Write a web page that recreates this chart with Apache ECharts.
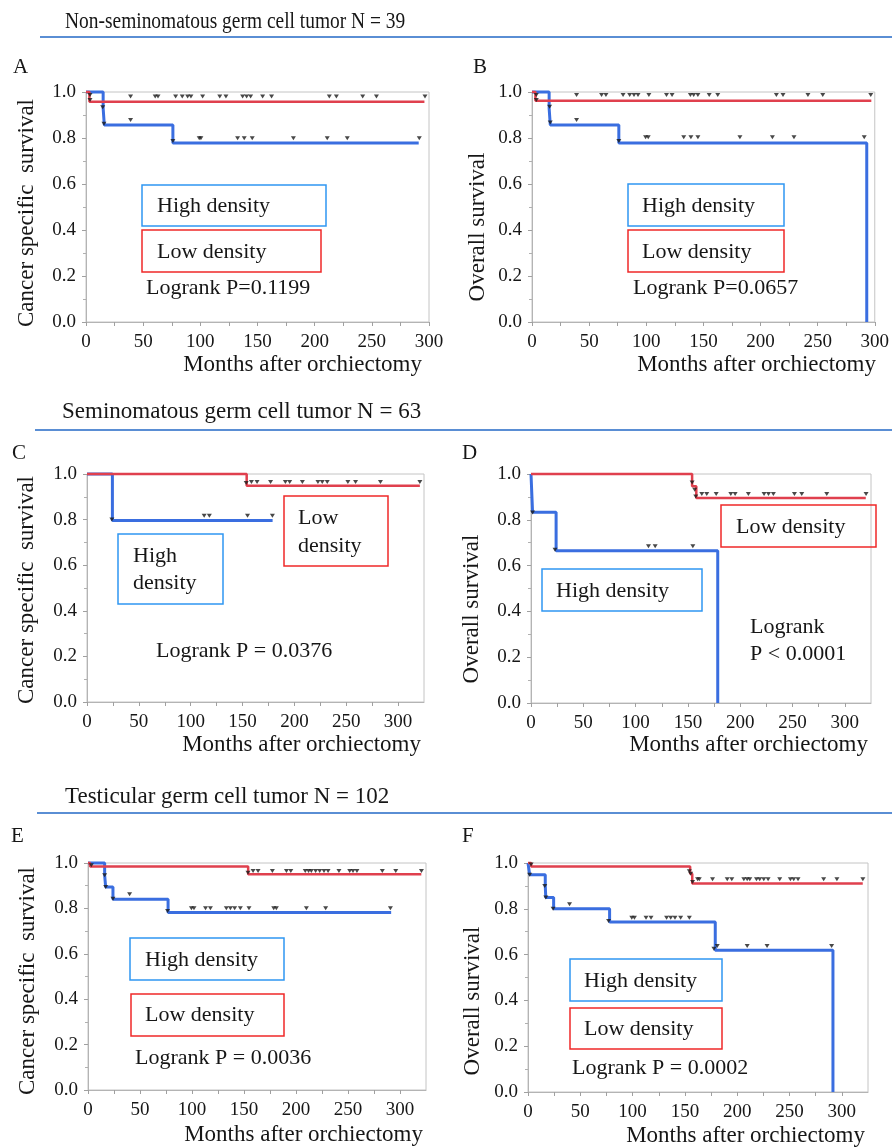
<!DOCTYPE html>
<html>
<head>
<meta charset="utf-8">
<script src="https://cdn.jsdelivr.net/npm/echarts@6/dist/echarts.min.js"></script>
<style>
  html, body { margin: 0; padding: 0; background: #fff; }
  #chart { width: 892px; height: 1147px; }
</style>
</head>
<body>
<div id="chart"></div>
<script>
// tick labels
var monthTicks = [0, 50, 100, 150, 200, 250, 300];
var monthMinorTicks = [0, 25, 50, 75, 100, 125, 150, 175, 200, 225, 250, 275, 300];

var headers = [
    'Non-seminomatous germ cell tumor N = 39',
    'Seminomatous germ cell tumor N = 63',
    'Testicular germ cell tumor N = 102'
];
var panelLetters = ['A', 'B', 'C', 'D', 'E', 'F'];
var yTitles = ['Cancer specific  survival', 'Overall survival', 'Cancer specific  survival',
    'Overall survival', 'Cancer specific  survival', 'Overall survival'];
var logrankTexts = ['Logrank P=0.1199', 'Logrank P=0.0657', 'Logrank P = 0.0376',
    'Logrank\nP < 0.0001', 'Logrank P = 0.0036', 'Logrank P = 0.0002'];

// [month, survival] — step curves
var aHighSteps = [[0, 1], [15, 0.929], [16, 0.857], [76, 0.778], [291, 0.778]];
var aLowSteps = [[0, 1], [3, 0.958], [296, 0.958]];
var bHighSteps = [[0, 1], [15, 0.929], [16, 0.857], [76, 0.778], [293, 0.778], [293, 0]];
var bLowSteps = [[0, 1], [3, 0.962], [297, 0.962]];
var cHighSteps = [[0, 1], [24.5, 0.796], [179, 0.796]];
var cLowSteps = [[0, 1], [154, 0.948], [321, 0.948]];
var dHighSteps = [[0, 1], [1.5, 0.833], [24, 0.665], [178.5, 0.665], [178.5, 0]];
var dLowSteps = [[0, 1], [154, 0.946], [158, 0.895], [320, 0.895]];
var eHighSteps = [[0, 1], [16, 0.947], [17, 0.894], [24, 0.84], [77, 0.782], [291.5, 0.782]];
var eLowSteps = [[0, 1], [2, 0.985], [154, 0.95], [320.5, 0.95]];
var fHighSteps = [[0, 1], [1.6, 0.949], [16.5, 0.9], [17, 0.849], [24.5, 0.8], [78, 0.742],
    [179, 0.619], [291.5, 0.619], [291.5, 0]];
var fLowSteps = [[0, 1], [3, 0.985], [155, 0.953], [157, 0.91], [320, 0.91]];

// [month, mark height] — censored marks
var aHighCensored = [[14.6, 0.934], [15.7, 0.862], [39, 0.878], [76, 0.787], [99, 0.799], [100.5, 0.799],
    [132.6, 0.799], [138.4, 0.799], [145.4, 0.799], [181.4, 0.799], [211, 0.799], [228.5, 0.799], [291.5, 0.799]];
var aLowCensored = [[3.5, 0.987], [3.5, 0.965], [39, 0.98], [60.5, 0.98], [63, 0.98], [78.4, 0.98], [84.2, 0.98],
    [88.9, 0.98], [91.8, 0.98], [102, 0.98], [117, 0.98], [122.4, 0.98], [137, 0.98], [140.5, 0.98], [144, 0.98],
    [154.5, 0.98], [162.3, 0.98], [212.8, 0.98], [219, 0.98], [242, 0.98], [254, 0.98], [296.5, 0.98]];
var bHighCensored = [[15.4, 0.936], [16, 0.867], [39, 0.878], [76, 0.787], [99.4, 0.803], [101.7, 0.803],
    [132.8, 0.803], [139.1, 0.803], [145.2, 0.803], [182, 0.803], [210.4, 0.803], [229.3, 0.803], [290.8, 0.803]];
var bLowCensored = [[3.8, 0.987], [3.8, 0.965], [39, 0.987], [60.9, 0.987], [64.7, 0.987], [79.7, 0.987],
    [85.5, 0.987], [89.3, 0.987], [92.8, 0.987], [102.3, 0.987], [117.7, 0.987], [122.6, 0.987], [138.6, 0.987],
    [141.5, 0.987], [145.2, 0.987], [155.1, 0.987], [162.6, 0.987], [213.9, 0.987], [219.7, 0.987],
    [241.5, 0.987], [254.5, 0.987], [296.5, 0.987]];
var cHighCensored = [[24, 0.8], [113, 0.817], [118, 0.817], [154.8, 0.817], [178.8, 0.817]];
var cLowCensored = [[153.5, 0.96], [158.6, 0.965], [164, 0.965], [177, 0.965], [191.3, 0.965], [195.5, 0.965],
    [207.7, 0.965], [222.7, 0.965], [226.9, 0.965], [231.7, 0.965], [251.6, 0.965], [259, 0.965],
    [283, 0.965], [321, 0.965]];
var dHighCensored = [[1.5, 0.832], [23, 0.669], [112.3, 0.684], [118.7, 0.684], [154.7, 0.684]];
var dLowCensored = [[154, 0.963], [156.5, 0.931], [157.5, 0.902], [163.3, 0.913], [168, 0.913], [177, 0.913],
    [191, 0.913], [195.1, 0.913], [207.8, 0.913], [222.8, 0.913], [227, 0.913], [231.7, 0.913], [251.8, 0.913],
    [258.8, 0.913], [282.7, 0.913], [320.3, 0.913]];
var eHighCensored = [[16, 0.946], [17, 0.894], [24, 0.843], [40, 0.862], [76.5, 0.789], [99.4, 0.801],
    [101.9, 0.801], [113, 0.801], [117.7, 0.801], [133, 0.801], [136.9, 0.801], [141, 0.801], [146.5, 0.801],
    [154.8, 0.801], [178.6, 0.801], [181.1, 0.801], [210, 0.801], [228.5, 0.801], [290.8, 0.801]];
var eLowCensored = [[3.2, 0.99], [153.8, 0.957], [158.7, 0.965], [163.5, 0.965], [177.3, 0.965], [190.8, 0.965],
    [195, 0.965], [208.9, 0.965], [212.1, 0.965], [214.7, 0.965], [218.9, 0.965], [222.8, 0.965], [226.9, 0.965],
    [230.8, 0.965], [241.3, 0.965], [251.6, 0.965], [254.8, 0.965], [258.6, 0.965], [283, 0.965],
    [295.9, 0.965], [320.6, 0.965]];
var fHighCensored = [[1.6, 0.949], [16, 0.9], [17, 0.849], [24, 0.8], [39.7, 0.82], [77, 0.747], [99.2, 0.761],
    [101.7, 0.761], [112.8, 0.761], [117.6, 0.761], [132.5, 0.761], [136.4, 0.761], [140.5, 0.761],
    [145.9, 0.761], [154.2, 0.761], [177.7, 0.626], [180.9, 0.638], [209.5, 0.638], [228.5, 0.638],
    [290.2, 0.638]];
var fLowCensored = [[2.9, 0.993], [154.2, 0.964], [155.5, 0.953], [157.3, 0.917], [162.1, 0.929], [163.7, 0.929],
    [176.4, 0.929], [190.4, 0.929], [194.8, 0.929], [206.3, 0.929], [209.5, 0.929], [212, 0.929], [218.4, 0.929],
    [221.5, 0.929], [225.4, 0.929], [229.5, 0.929], [240.6, 0.929], [250.8, 0.929], [254, 0.929],
    [258.1, 0.929], [282.6, 0.929], [295.3, 0.929], [320.1, 0.929]];

var FONT = '"Liberation Serif", "Times New Roman", serif';
var BLUE = '#3a6ee0';
var RED = '#e0404e';
var BOX_BLUE = '#2f97f2';
var BOX_RED = '#f02828';
var TXT = '#161616';

// layout of each panel (pixels)
var panels = [
    {grid: [86, 92, 343, 230], xMax: 300, high: aHighSteps, low: aLowSteps, hc: aHighCensored, lc: aLowCensored,
        letter: [13, 67], yTitle: [27, 213], xTitle: [422, 365],
        boxes: [[142, 185, 184, 41, 'b'], [142, 230, 179, 42, 'r']],
        texts: [['High density', 157, 206], ['Low density', 157, 252], ['logrank', 146, 288]]},
    {grid: [532, 92, 345, 230], xMax: 300, high: bHighSteps, low: bLowSteps, hc: bHighCensored, lc: bLowCensored,
        letter: [473, 67], yTitle: [478, 227], xTitle: [876, 365],
        boxes: [[628, 184, 156, 42, 'b'], [628, 230, 156, 42, 'r']],
        texts: [['High density', 642, 206], ['Low density', 642, 252], ['logrank', 633, 288]]},
    {grid: [87, 474, 337, 228], xMax: 325, high: cHighSteps, low: cLowSteps, hc: cHighCensored, lc: cLowCensored,
        letter: [12, 453], yTitle: [27, 590], xTitle: [421, 745],
        boxes: [[118, 534, 105, 70, 'b'], [284, 496, 104, 70, 'r']],
        texts: [['High', 133, 556], ['density', 133, 583], ['Low', 298, 518], ['density', 298, 546],
            ['logrank', 156, 651]]},
    {grid: [531, 474, 340, 229], xMax: 325, high: dHighSteps, low: dLowSteps, hc: dHighCensored, lc: dLowCensored,
        letter: [462, 453], yTitle: [472, 609], xTitle: [868, 745],
        boxes: [[542, 569, 160, 42, 'b'], [721, 505, 155, 42, 'r']],
        texts: [['High density', 556, 591], ['Low density', 736, 527], ['logrank', 750, 641]]},
    {grid: [88, 863, 338, 227], xMax: 325, high: eHighSteps, low: eLowSteps, hc: eHighCensored, lc: eLowCensored,
        letter: [11, 836], yTitle: [28, 981], xTitle: [423, 1135],
        boxes: [[130, 938, 154, 42, 'b'], [131, 994, 153, 42, 'r']],
        texts: [['High density', 145, 960], ['Low density', 145, 1015], ['logrank', 135, 1058]]},
    {grid: [528, 863, 340, 229], xMax: 325, high: fHighSteps, low: fLowSteps, hc: fHighCensored, lc: fLowCensored,
        letter: [462, 836], yTitle: [473, 1001], xTitle: [865, 1136],
        boxes: [[570, 959, 152, 42, 'b'], [570, 1008, 152, 41, 'r']],
        texts: [['High density', 584, 981], ['Low density', 584, 1029], ['logrank', 572, 1068]]}
];

// x, text y, line y, line start, horizontal squeeze
var headerPos = [[65, 22, 37, 40, 0.845], [62, 412, 430, 35, 1], [65, 797, 813, 37, 1]];

var grids = [], xAxes = [], yAxes = [], series = [], elements = [];

panels.forEach(function (p, i) {
    grids.push({left: p.grid[0], top: p.grid[1], width: p.grid[2], height: p.grid[3],
        show: true, borderColor: '#c4c4c4', borderWidth: 1, backgroundColor: 'transparent'});
    xAxes.push({
        type: 'value', gridIndex: i, min: 0, max: p.xMax,
        axisLine: {show: true, lineStyle: {color: '#b4b4b4', width: 1}},
        axisTick: {show: true, customValues: monthMinorTicks, length: 4, lineStyle: {color: '#a0a0a0'}},
        axisLabel: {customValues: monthTicks, fontFamily: FONT, fontSize: 19, color: TXT, margin: 11},
        splitLine: {show: false}
    });
    yAxes.push({
        type: 'value', gridIndex: i, min: 0, max: 1, interval: 0.2,
        axisLine: {show: true, lineStyle: {color: '#b4b4b4', width: 1}},
        axisTick: {show: true, length: 4, lineStyle: {color: '#a0a0a0'}},
        minorTick: {show: true, splitNumber: 2, length: 3, lineStyle: {color: '#b0b0b0'}},
        axisLabel: {fontFamily: FONT, fontSize: 19, color: TXT, margin: 10,
            formatter: function (v) { return v.toFixed(1); }},
        splitLine: {show: false}
    });
    series.push({type: 'line', xAxisIndex: i, yAxisIndex: i, data: p.high, step: 'end', symbol: 'none',
        clip: false, lineStyle: {color: BLUE, width: 3}, z: 2, silent: true});
    series.push({type: 'line', xAxisIndex: i, yAxisIndex: i, data: p.low, step: 'end', symbol: 'none',
        clip: false, lineStyle: {color: RED, width: 2.5}, z: 3, silent: true});
    [p.hc, p.lc].forEach(function (c) {
        series.push({type: 'scatter', xAxisIndex: i, yAxisIndex: i, data: c, symbol: 'triangle',
            symbolRotate: 180, symbolSize: [5, 4], itemStyle: {color: '#1a1a1a'}, z: 5, silent: true});
    });

    elements.push({type: 'text', x: p.letter[0], y: p.letter[1],
        style: {text: panelLetters[i], font: '21px ' + FONT, fill: TXT, verticalAlign: 'middle'}});
    elements.push({type: 'text', x: p.yTitle[0], y: p.yTitle[1], rotation: Math.PI / 2,
        style: {text: yTitles[i], font: '23px ' + FONT, fill: TXT, align: 'center', verticalAlign: 'middle'}});
    elements.push({type: 'text', x: p.xTitle[0], y: p.xTitle[1],
        style: {text: 'Months after orchiectomy', font: '23px ' + FONT, fill: TXT, align: 'right', verticalAlign: 'middle'}});
    p.boxes.forEach(function (b) {
        elements.push({type: 'rect', shape: {x: b[0], y: b[1], width: b[2], height: b[3]},
            style: {fill: 'none', stroke: b[4] === 'b' ? BOX_BLUE : BOX_RED, lineWidth: 1.5}});
    });
    p.texts.forEach(function (t) {
        var txt = t[0] === 'logrank' ? logrankTexts[i] : t[0];
        elements.push({type: 'text', x: t[1], y: t[2],
            style: {text: txt, font: '22px ' + FONT, fill: TXT, verticalAlign: 'middle', lineHeight: 27}});
    });
});

headers.forEach(function (h, i) {
    var hp = headerPos[i];
    elements.push({type: 'text', x: hp[0], y: hp[1], scaleX: hp[4],
        style: {text: h, font: '23px ' + FONT, fill: TXT, verticalAlign: 'middle'}});
    elements.push({type: 'line', shape: {x1: hp[3], y1: hp[2], x2: 892, y2: hp[2]},
        style: {stroke: '#5a8ed4', lineWidth: 2}});
});

var chart = echarts.init(document.getElementById('chart'), null, {renderer: 'canvas'});
chart.setOption({
    animation: false,
    backgroundColor: '#ffffff',
    grid: grids,
    xAxis: xAxes,
    yAxis: yAxes,
    series: series,
    graphic: {elements: elements}
});
</script>
</body>
</html>
